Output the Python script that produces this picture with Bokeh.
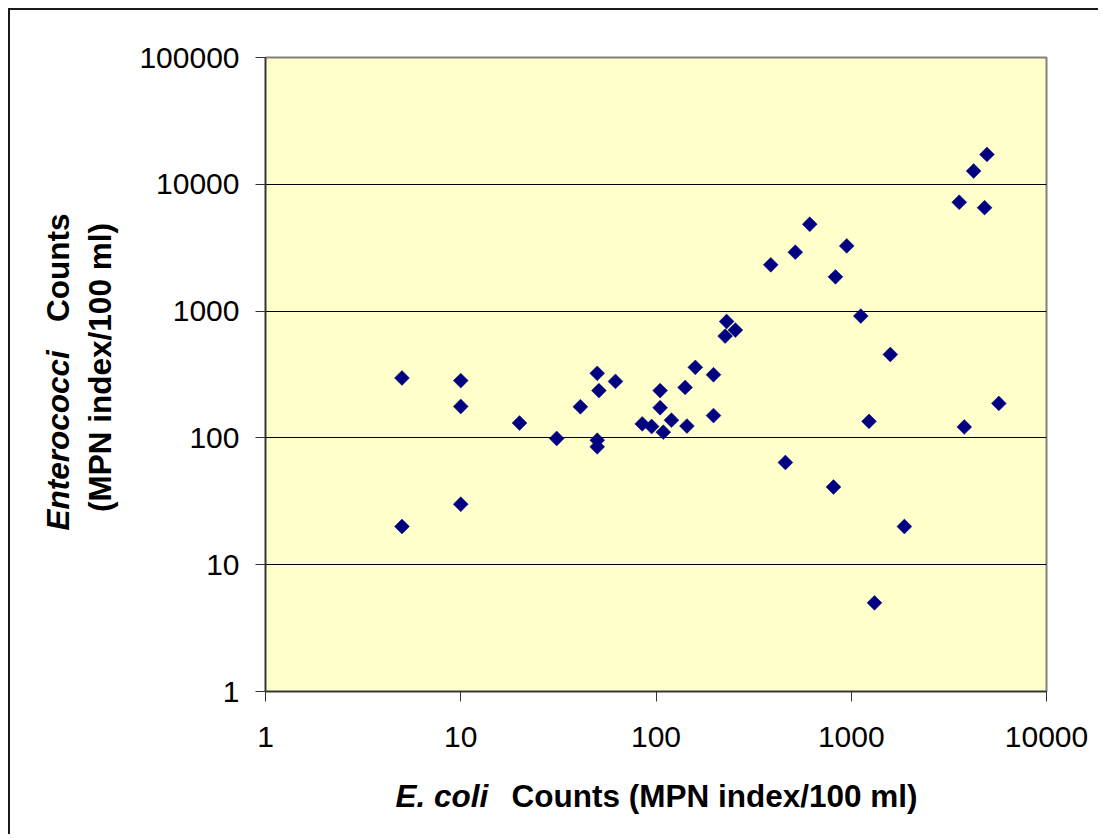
import math
from bokeh.plotting import figure
from bokeh.models import Range1d, FixedTicker, PrintfTickFormatter
from bokeh.core.properties import value
from bokeh.embed import file_html
from bokeh.resources import INLINE

# E. coli counts (x) and Enterococci counts (y), MPN index/100 ml
ecoli = [5, 5, 10, 10, 10, 20, 31, 41, 50, 51, 50, 50, 62, 85, 95,
         105, 105, 109, 120, 141, 144, 159, 197, 197, 226, 230, 255,
         387, 460, 517, 613, 811, 830, 948, 1119, 1233, 1315, 1585,
         1871, 3573, 3793, 4235, 4817, 4955, 5700]
entero = [297, 20, 283, 177, 30, 131, 99, 176, 323, 236, 96, 85, 279, 129, 123,
          236, 173, 111, 138, 250, 124, 360, 315, 150, 635, 828, 708,
          2317, 64, 2915, 4842, 41, 1862, 3266, 914, 135, 5, 455,
          20, 7215, 122, 12730, 6545, 17200, 187]

x_ticks = [1, 10, 100, 1000, 10000]
y_ticks = [1, 10, 100, 1000, 10000, 100000]

x_title_italic = "E. coli"
x_title_rest = "Counts (MPN index/100 ml)"
y_title_italic = "Enterococci"
y_title_rest = "Counts"
y_title_line2 = "(MPN index/100 ml)"

FONT = "Liberation Sans"
W, H = 1090, 826
BL, BT = 255, 47
FW, FH = 781, 634

p = figure(width=W, height=H, x_axis_type="log", y_axis_type="log",
           x_range=Range1d(x_ticks[0], x_ticks[-1]),
           y_range=Range1d(y_ticks[0], y_ticks[-1]),
           output_backend="svg", toolbar_location=None,
           min_border_left=BL, min_border_right=W - BL - FW,
           min_border_top=BT, min_border_bottom=H - BT - FH)
p.styles = {"margin-left": "8px", "margin-top": "8px",
            "border-left": "2px solid #1a1a1a", "border-top": "2px solid #1a1a1a"}
p.background_fill_color = "#FFFFCC"
p.border_fill_color = "white"
p.outline_line_color = "#808080"
p.outline_line_width = 2

p.xaxis.ticker = FixedTicker(ticks=x_ticks, minor_ticks=[])
p.yaxis.ticker = FixedTicker(ticks=y_ticks, minor_ticks=[])
p.xaxis.formatter = PrintfTickFormatter(format="%d")
p.yaxis.formatter = PrintfTickFormatter(format="%d")
for ax in (p.xaxis, p.yaxis):
    ax.axis_line_color = "#333333"
    ax.axis_line_width = 1.5
    ax.major_tick_line_color = "#333333"
    ax.major_tick_out = 10
    ax.major_tick_in = 0
    ax.minor_tick_line_color = None
    ax.major_label_text_font = FONT
    ax.major_label_text_font_size = "30px"
    ax.major_label_text_color = "black"
p.yaxis.major_label_standoff = 16
p.xaxis.major_label_standoff = 25
p.xgrid.visible = False
p.ygrid.ticker = FixedTicker(ticks=y_ticks, minor_ticks=[])
p.ygrid.grid_line_color = "black"
p.ygrid.grid_line_width = 1

p.scatter(ecoli, entero, marker="square", angle=math.pi / 4, size=10.5,
          fill_color="#000080", line_color="#000080", line_width=0.5)

# axis titles: page-pixel anchors converted to data space (drawn outside frame)
FRAME_L = 265
FRAME_B = 57 + FH


def xd(px):
    return 10 ** ((px - FRAME_L) / (FW / 4))


def yd(py):
    return 10 ** ((FRAME_B - py) / (FH / 5))


def title_text(px, py, txt, style, align, angle=0.0):
    p.text(x=[xd(px)], y=[yd(py)], text=[txt], angle=angle,
           text_font=value(FONT), text_font_size=value("31.5px"),
           text_font_style=style, text_align=align,
           text_baseline="alphabetic", text_color="black", level="guide")


title_text(395, 795, x_title_italic, "bold italic", "left")
title_text(917, 795, x_title_rest, "bold", "right")
title_text(57, 530, y_title_italic, "bold italic", "left", math.pi / 2)
title_text(57, 213, y_title_rest, "bold", "right", math.pi / 2)
title_text(99, 367, y_title_line2, "bold", "center", math.pi / 2)

open("out.html", "w").write(file_html(p, INLINE))
